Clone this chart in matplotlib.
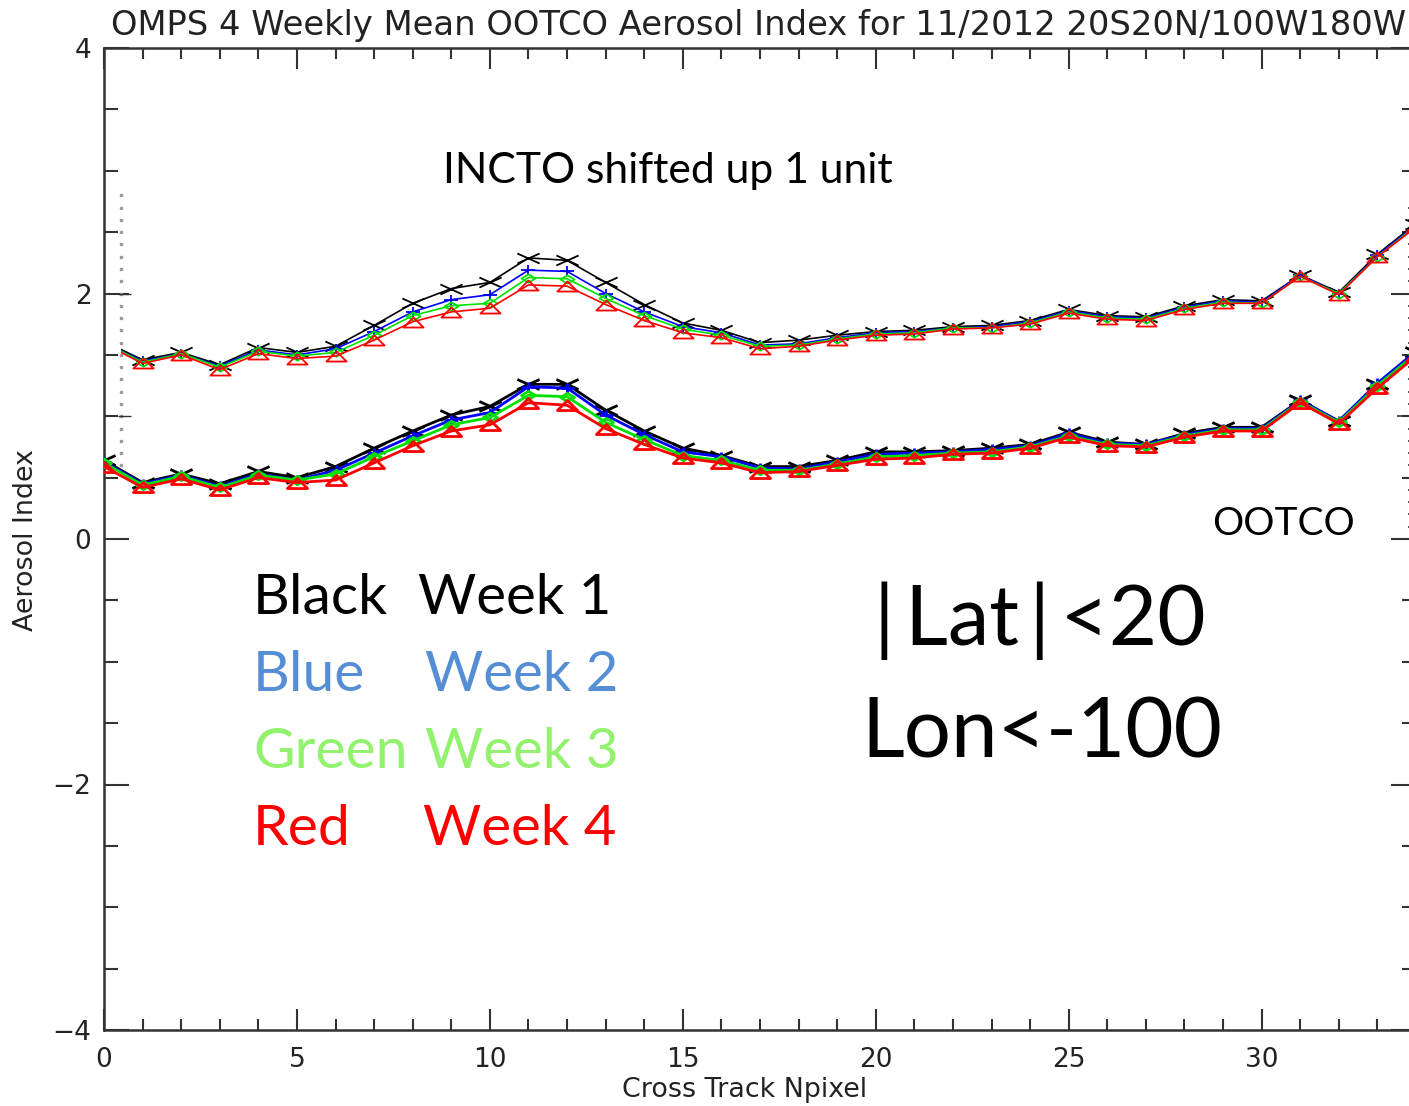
import numpy as np
import matplotlib
matplotlib.use("Agg")
import matplotlib.pyplot as plt
from matplotlib.path import Path
from matplotlib.patches import Rectangle
from matplotlib.ticker import MultipleLocator

# ---- data -------------------------------------------------------------
npixel = list(range(35))

ootco_week1 = [0.64, 0.46, 0.53, 0.45, 0.55, 0.50, 0.59, 0.74, 0.88, 1.01, 1.08, 1.26,
               1.26, 1.05, 0.88, 0.74, 0.68, 0.59, 0.59, 0.64, 0.71, 0.71, 0.72, 0.74,
               0.77, 0.87, 0.79, 0.77, 0.86, 0.91, 0.91, 1.13, 0.96, 1.26, 1.52]
ootco_week2 = [0.63, 0.45, 0.52, 0.43, 0.53, 0.48, 0.56, 0.70, 0.84, 0.97, 1.03, 1.24,
               1.23, 1.01, 0.85, 0.71, 0.67, 0.58, 0.57, 0.63, 0.69, 0.70, 0.71, 0.73,
               0.76, 0.86, 0.78, 0.77, 0.85, 0.90, 0.90, 1.13, 0.96, 1.27, 1.53]
ootco_week3 = [0.62, 0.44, 0.51, 0.42, 0.52, 0.48, 0.53, 0.67, 0.80, 0.93, 0.99, 1.17,
               1.16, 0.95, 0.81, 0.68, 0.64, 0.56, 0.56, 0.61, 0.67, 0.68, 0.70, 0.71,
               0.75, 0.84, 0.77, 0.76, 0.84, 0.89, 0.89, 1.12, 0.95, 1.25, 1.51]
ootco_week4 = [0.59, 0.42, 0.49, 0.40, 0.50, 0.46, 0.48, 0.62, 0.76, 0.88, 0.93, 1.11,
               1.09, 0.90, 0.77, 0.66, 0.62, 0.54, 0.55, 0.60, 0.65, 0.66, 0.69, 0.70,
               0.74, 0.83, 0.76, 0.75, 0.83, 0.88, 0.88, 1.11, 0.94, 1.23, 1.49]

incto_week1 = [0.61, 0.46, 0.52, 0.42, 0.56, 0.52, 0.57, 0.74, 0.92, 1.04, 1.09, 1.29,
               1.27, 1.09, 0.91, 0.76, 0.70, 0.60, 0.62, 0.66, 0.69, 0.70, 0.73, 0.74,
               0.78, 0.87, 0.82, 0.81, 0.90, 0.95, 0.94, 1.15, 1.01, 1.32, 1.57]
incto_week2 = [0.60, 0.45, 0.51, 0.41, 0.54, 0.50, 0.55, 0.69, 0.85, 0.95, 0.99, 1.19,
               1.18, 1.00, 0.85, 0.73, 0.68, 0.58, 0.59, 0.64, 0.68, 0.69, 0.72, 0.73,
               0.77, 0.86, 0.81, 0.80, 0.89, 0.94, 0.93, 1.15, 1.00, 1.31, 1.56]
incto_week3 = [0.60, 0.44, 0.51, 0.40, 0.53, 0.49, 0.52, 0.66, 0.82, 0.90, 0.92, 1.13,
               1.12, 0.96, 0.82, 0.71, 0.66, 0.57, 0.58, 0.63, 0.67, 0.68, 0.72, 0.72,
               0.76, 0.85, 0.80, 0.79, 0.88, 0.93, 0.92, 1.14, 1.00, 1.30, 1.55]
incto_week4 = [0.59, 0.43, 0.50, 0.38, 0.51, 0.47, 0.49, 0.62, 0.77, 0.85, 0.88, 1.07,
               1.06, 0.91, 0.78, 0.68, 0.64, 0.55, 0.57, 0.62, 0.66, 0.67, 0.71, 0.72,
               0.75, 0.84, 0.79, 0.78, 0.87, 0.92, 0.92, 1.14, 0.99, 1.30, 1.54]

incto_shift = 1.0

week_colors = ["#000000", "#0000ff", "#00e000", "#ff0000"]
label_colors = ["#000000", "#558ed5", "#92f26e", "#ff0000"]
color_names = ["Black", "Blue", "Green", "Red"]
week_names = ["Week 1", "Week 2", "Week 3", "Week 4"]

title = "OMPS 4 Weekly Mean OOTCO Aerosol Index for 11/2012 20S20N/100W180W"
xlabel = "Cross Track Npixel"
ylabel = "Aerosol Index"

# ---- plot symbols (wide, flat shapes) ---------------------------------
M, L, C = Path.MOVETO, Path.LINETO, Path.CLOSEPOLY
sym_cross = Path([(-1, -0.45), (1, 0.45), (-1, 0.45), (1, -0.45)], [M, L, M, L])
sym_plus = Path([(-1, 0), (1, 0), (0, -0.7), (0, 0.7)], [M, L, M, L])
sym_diamond = Path([(-1, 0), (0, 0.6), (1, 0), (0, -0.6), (-1, 0)], [M, L, L, L, C])
sym_tri = Path([(-1, -0.5), (0, 0.5), (1, -0.5), (-1, -0.5)], [M, L, L, C])
symbols = [(sym_cross, 16), (sym_plus, 10), (sym_diamond, 10), (sym_tri, 14.5)]

W, H = 1409, 1106
fig = plt.figure(figsize=(W / 100, H / 100), dpi=100)
fig.patch.set_facecolor("white")

x0_px, x1_px = 104, 1416
y_top_px, y_bot_px = 48, 1030
ax = fig.add_axes([x0_px / W, 1 - y_bot_px / H,
                   (x1_px - x0_px) / W, (y_bot_px - y_top_px) / H])
ax.set_xlim(0, 34)
ax.set_ylim(-4, 4)

ink = "#222222"
for s in ax.spines.values():
    s.set_linewidth(1.8)
    s.set_color("#333333")

ax.xaxis.set_major_locator(MultipleLocator(5))
ax.xaxis.set_minor_locator(MultipleLocator(1))
ax.yaxis.set_major_locator(MultipleLocator(2))
ax.yaxis.set_minor_locator(MultipleLocator(0.5))
ax.tick_params(which="both", direction="in", top=True, right=True, color="#333333",
               width=1.5, labelsize=19, labelcolor=ink)
ax.tick_params(axis="x", which="major", length=15, pad=12)
ax.tick_params(axis="x", which="minor", length=8)
ax.tick_params(axis="y", which="major", length=18, pad=9)
ax.tick_params(axis="y", which="minor", length=10)
ax.set_xticks([0, 5, 10, 15, 20, 25, 30])
ax.set_xticklabels(["0", "5", "10", "15", "20", "25", "30"])
ax.set_yticks([-4, -2, 0, 2, 4])
ax.set_yticklabels(["\u22124", "\u22122", "0", "2", "4"])

fig.text(759 / W, 1 - 35 / H, title, fontsize=24.3, color=ink, ha="center",
         va="baseline")
fig.text(745 / W, 1 - 1090 / H, xlabel, fontsize=19.4, color=ink, ha="center",
         va="center")
fig.text(26 / W, 1 - 540 / H, ylabel, fontsize=19.4, color=ink, ha="center",
         va="center", rotation=90)

# INCTO curves, drawn with the vertical offset and clipped at their own left edge
incto_clip = Rectangle((0.43, -5), 40, 10, transform=ax.transData)
incto = [incto_week1, incto_week2, incto_week3, incto_week4]
for vals, col, (sym, ms) in zip(incto, week_colors, symbols):
    ln, = ax.plot(npixel, np.array(vals) + incto_shift, color=col, lw=1.2,
                  marker=sym, ms=ms, mec=col, mfc="none", mew=1.3, zorder=3)
    ln.set_clip_path(incto_clip)

# OOTCO curves
ootco = [ootco_week1, ootco_week2, ootco_week3, ootco_week4]
for vals, col, (sym, ms) in zip(ootco, week_colors, symbols):
    ax.plot(npixel, vals, color=col, lw=2.0, marker=sym, ms=ms,
            mec=col, mfc="none", mew=2.0, zorder=4)

# axis fragments of the INCTO panel (dotted left scale and right-hand ticks)
frag_y = np.arange(0.6, 2.81, 0.1)
ax.plot(np.full(frag_y.size, 0.44), frag_y, ls="none", marker="s", ms=1.6,
        color="#9a9a9a", zorder=2)
ax.hlines([1, 2], 0.36, 0.70, color="#333333", lw=1.0)
rt_y = np.arange(0.1, 2.75, 0.1)
ax.hlines(rt_y, 33.78, 34.0, color="#333333", lw=1.2)
ax.hlines([1, 2], 33.5, 34.0, color="#333333", lw=1.2)

# annotations
fam = ["Lato", "DejaVu Sans"]


def ptext(px, py, s, size, color="black", ha="left"):
    fig.text(px / W, 1 - py / H, s, fontsize=size, color=color, ha=ha,
             va="baseline", family=fam)


ptext(443, 183, "INCTO shifted up 1 unit", 30.7)
ptext(1212, 535, "OOTCO", 28)
rows_y = [614, 691, 768, 845]
week_x = [418, 425, 425, 423]
for cname, wname, col, yb, wx in zip(color_names, week_names, label_colors, rows_y, week_x):
    ptext(253, yb, cname, 41, col)
    ptext(wx, yb, wname, 40.5, col)
ptext(1040, 645, "|\u2009Lat\u2009|\u2009<20", 60, ha="center")
ptext(1042, 757, "Lon<-100", 60, ha="center")

fig.savefig("out.png", dpi=100, facecolor="white")
